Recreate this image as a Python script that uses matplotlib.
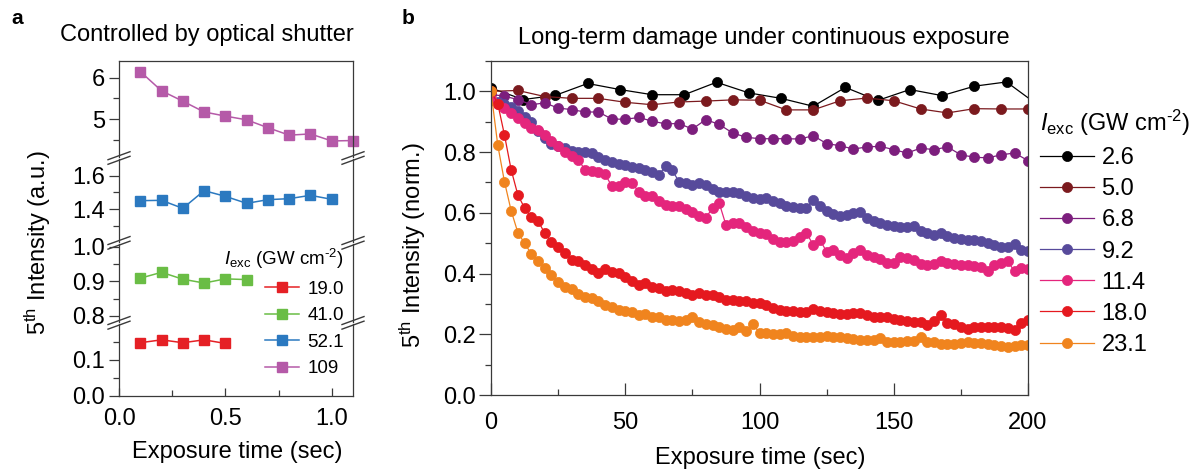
import numpy as np
import matplotlib
matplotlib.use('Agg')
import matplotlib.pyplot as plt
from matplotlib.lines import Line2D
from matplotlib.ticker import FixedLocator, MultipleLocator, FormatStrFormatter

plt.rcParams['font.family'] = 'Liberation Sans'
plt.rcParams['mathtext.fontset'] = 'custom'
plt.rcParams['mathtext.rm'] = 'Liberation Sans'
plt.rcParams['mathtext.it'] = 'Liberation Sans:italic'
plt.rcParams['mathtext.bf'] = 'Liberation Sans:bold'
FS = 17
FS_LEG_A = 13.5
FRAME = '#3a3a3a'
LEG_TITLE = r'$I_{\rm exc}$ (GW cm$^{\text{-2}}$)'

# ---- panel a: shutter controlled exposure (a.u.) ----
t_a = [0.1, 0.2, 0.3, 0.4, 0.5, 0.6, 0.7, 0.8, 0.9, 1.0, 1.1]
a_190 = [0.148, 0.156, 0.148, 0.156, 0.146]
a_410 = [0.909, 0.926, 0.906, 0.895, 0.907, 0.905]
a_521 = [1.450, 1.452, 1.404, 1.510, 1.476, 1.434, 1.456, 1.462, 1.482, 1.458]
a_109 = [6.145, 5.68, 5.43, 5.17, 5.07, 4.98, 4.79, 4.61, 4.64, 4.47, 4.48]
labels_a = ['19.0', '41.0', '52.1', '109']

# ---- panel b: continuous exposure (norm.) ----
t_26 = np.arange(0, 205, 12)
b_26 = [1.011, 0.973, 0.987, 1.026, 1.006, 0.989, 0.989, 1.030, 0.995, 0.977,
        0.951, 1.013, 0.970, 1.006, 0.986, 1.017, 1.031, 0.953]
t_50 = np.arange(0, 201, 10)
b_50 = [1.000, 1.003, 0.983, 0.977, 0.977, 0.964, 0.956, 0.965, 0.968, 0.972,
        0.971, 0.939, 0.939, 0.969, 0.978, 0.969, 0.942, 0.929, 0.943, 0.942, 0.942]
t_68 = np.arange(0, 201, 5)
b_68 = [0.990, 0.984, 0.973, 0.956, 0.962, 0.945, 0.940, 0.932, 0.932, 0.909,
        0.908, 0.914, 0.902, 0.893, 0.894, 0.876, 0.907, 0.891, 0.863, 0.849,
        0.844, 0.844, 0.844, 0.843, 0.854, 0.828, 0.821, 0.810, 0.817, 0.819,
        0.808, 0.797, 0.813, 0.808, 0.817, 0.791, 0.783, 0.781, 0.791, 0.797, 0.772]
t_dense = np.arange(0, 201, 2.5)
b_92 = [0.970, 0.965, 0.958, 0.950, 0.935, 0.915, 0.900, 0.870, 0.845, 0.828,
        0.820, 0.813, 0.805, 0.800, 0.799, 0.797, 0.785, 0.775, 0.769, 0.762,
        0.758, 0.752, 0.747, 0.740, 0.733, 0.725, 0.753, 0.740, 0.703, 0.697,
        0.692, 0.698, 0.690, 0.680, 0.670, 0.668, 0.667, 0.665, 0.655, 0.648,
        0.645, 0.648, 0.640, 0.632, 0.622, 0.618, 0.616, 0.616, 0.643, 0.621,
        0.605, 0.597, 0.590, 0.593, 0.598, 0.604, 0.583, 0.573, 0.568, 0.560,
        0.557, 0.554, 0.554, 0.555, 0.540, 0.532, 0.528, 0.535, 0.523, 0.517,
        0.513, 0.511, 0.511, 0.508, 0.500, 0.494, 0.489, 0.486, 0.498, 0.478, 0.473]
b_114 = [0.975, 0.960, 0.945, 0.928, 0.912, 0.895, 0.878, 0.872, 0.855, 0.838,
         0.820, 0.800, 0.786, 0.775, 0.742, 0.738, 0.735, 0.728, 0.687, 0.687,
         0.700, 0.698, 0.670, 0.656, 0.654, 0.640, 0.626, 0.621, 0.621, 0.614,
         0.602, 0.590, 0.583, 0.616, 0.632, 0.560, 0.565, 0.566, 0.553, 0.540,
         0.533, 0.530, 0.515, 0.505, 0.505, 0.508, 0.520, 0.533, 0.495, 0.511,
         0.472, 0.478, 0.460, 0.451, 0.467, 0.478, 0.460, 0.453, 0.448, 0.434,
         0.436, 0.456, 0.450, 0.445, 0.430, 0.429, 0.430, 0.440, 0.436, 0.432,
         0.429, 0.429, 0.426, 0.420, 0.410, 0.429, 0.434, 0.440, 0.407, 0.418, 0.415]
b_180 = [1.000, 0.960, 0.857, 0.742, 0.659, 0.616, 0.585, 0.574, 0.533, 0.505,
         0.489, 0.467, 0.445, 0.442, 0.429, 0.416, 0.403, 0.416, 0.406, 0.401,
         0.390, 0.374, 0.363, 0.368, 0.357, 0.352, 0.341, 0.346, 0.341, 0.335,
         0.330, 0.335, 0.330, 0.330, 0.324, 0.313, 0.313, 0.308, 0.308, 0.302,
         0.302, 0.297, 0.288, 0.280, 0.278, 0.276, 0.273, 0.275, 0.282, 0.278,
         0.275, 0.269, 0.266, 0.266, 0.269, 0.271, 0.262, 0.258, 0.256, 0.258,
         0.250, 0.248, 0.245, 0.242, 0.240, 0.231, 0.245, 0.265, 0.238, 0.233,
         0.225, 0.217, 0.225, 0.225, 0.225, 0.225, 0.223, 0.220, 0.214, 0.236, 0.247]
b_231 = [1.000, 0.824, 0.703, 0.607, 0.535, 0.500, 0.465, 0.442, 0.418, 0.394,
         0.372, 0.356, 0.348, 0.333, 0.324, 0.319, 0.308, 0.297, 0.291, 0.280,
         0.278, 0.275, 0.264, 0.266, 0.258, 0.256, 0.248, 0.247, 0.245, 0.247,
         0.258, 0.242, 0.234, 0.231, 0.225, 0.217, 0.214, 0.225, 0.212, 0.234,
         0.205, 0.203, 0.202, 0.201, 0.203, 0.195, 0.190, 0.190, 0.192, 0.192,
         0.194, 0.192, 0.190, 0.187, 0.184, 0.181, 0.180, 0.182, 0.187, 0.176,
         0.175, 0.174, 0.177, 0.179, 0.190, 0.173, 0.176, 0.167, 0.167, 0.169,
         0.170, 0.173, 0.171, 0.170, 0.168, 0.165, 0.160, 0.159, 0.162, 0.165, 0.165]
labels_b = ['2.6', '5.0', '6.8', '9.2', '11.4', '18.0', '23.1']

W, H = 1196, 472
fig = plt.figure(figsize=(W / 100, H / 100), dpi=100)


def box(l, t, r, b):
    return [l / W, 1 - b / H, (r - l) / W, (b - t) / H]


def fx(px):
    return px / W


def fy(py):
    return 1 - py / H


# ---------------- panel a (broken y axis) ----------------
AL, AR = 119, 353
segs = [  # (top, bottom, ylim, major, minor, fmt)
    (61, 156.7, (4.09, 6.40), [5, 6], [4.5, 5.5], '%d'),
    (159.3, 241.7, (1.204, 1.698), [1.4, 1.6], [1.3, 1.5], '%.1f'),
    (244, 321.7, (0.783, 1.008), [0.8, 0.9, 1.0], [0.85, 0.95], '%.1f'),
    (324, 396, (0.0, 0.2), [0.0, 0.1], [0.05, 0.15], '%.1f'),
]
series_a = [a_109, a_521, a_410, a_190]
colors_a = ['#b55aa8', '#2b79c0', '#6abd45', '#e52025']
names_a = [labels_a[3], labels_a[2], labels_a[1], labels_a[0]]
handles_a = {}
for i, (top, bot, ylim, major, minor, fmt) in enumerate(segs):
    ax = fig.add_axes(box(AL, top, AR, bot))
    vals = series_a[i]
    ln, = ax.plot(t_a[:len(vals)], vals, 's-', color=colors_a[i], ms=7.2,
                  mec=colors_a[i], lw=1.1, clip_on=False, label=names_a[i])
    handles_a[names_a[i]] = ln
    ax.set_xlim(0, 1.1)
    ax.set_ylim(*ylim)
    ax.yaxis.set_major_locator(FixedLocator(major))
    ax.yaxis.set_minor_locator(FixedLocator(minor))
    ax.yaxis.set_major_formatter(FormatStrFormatter(fmt))
    ax.tick_params(axis='y', which='major', direction='out', length=7.2, width=0.9,
                   pad=2.8, labelsize=FS, colors=FRAME, labelcolor='black')
    ax.tick_params(axis='y', which='minor', direction='out', length=4.3, width=0.9,
                   colors=FRAME)
    for s in ax.spines.values():
        s.set_color(FRAME)
        s.set_linewidth(0.9)
    ax.spines['top'].set_visible(i == 0)
    ax.spines['bottom'].set_visible(i == 3)
    if i == 3:
        ax.xaxis.set_major_locator(MultipleLocator(0.5))
        ax.xaxis.set_minor_locator(MultipleLocator(0.25))
        ax.xaxis.set_major_formatter(FormatStrFormatter('%.1f'))
        ax.tick_params(axis='x', which='major', direction='in', length=6, width=0.9,
                       pad=8.6, labelsize=FS, colors=FRAME, labelcolor='black')
        ax.tick_params(axis='x', which='minor', direction='in', length=4, width=0.9,
                       colors=FRAME)
    else:
        ax.tick_params(axis='x', which='both', bottom=False, labelbottom=False)

# break marks on both spines
for gap in [(156.7 + 159.3) / 2, (241.7 + 244) / 2, (321.7 + 324) / 2]:
    for xs in (AL, AR):
        for off in (-2.3, 2.3):
            fig.add_artist(Line2D([fx(xs - 11), fx(xs + 11)],
                                  [fy(gap + off + 4), fy(gap + off - 4)],
                                  color=FRAME, lw=1.0))

fig.text(fx(207), fy(35), 'Controlled by optical shutter', fontsize=FS,
         ha='center', va='center')
fig.text(fx(38), fy(243), r'5$^{\rm th}$ Intensity (a.u.)', fontsize=FS,
         rotation=90, ha='center', va='center')
fig.text(fx(237), fy(452), 'Exposure time (sec)', fontsize=FS,
         ha='center', va='center')
fig.text(fx(17), fy(18), 'a', fontsize=15, fontweight='bold', ha='center', va='center')

fig.legend([handles_a[n] for n in labels_a], labels_a,
           title=LEG_TITLE, loc='upper right',
           bbox_to_anchor=(fx(344), fy(247)), frameon=False, fontsize=FS_LEG_A,
           title_fontsize=FS_LEG_A, handlelength=1.8, handletextpad=0.45,
           labelspacing=0.5, borderpad=0, borderaxespad=0,
           alignment='right')

# ---------------- panel b ----------------
axb = fig.add_axes(box(491, 61, 1028, 395))
series_b = [(t_26, b_26), (t_50, b_50), (t_68, b_68), (t_dense, b_92),
            (t_dense, b_114), (t_dense, b_180), (t_dense, b_231)]
colors_b = ['#000000', '#7b1a1e', '#7c1e7d', '#574a9b', '#e4257c', '#e5191f', '#f0841e']
for (t, v), c, lab in zip(series_b, colors_b, labels_b):
    axb.plot(t, v, 'o-', color=c, ms=7.3, mec=c, mew=0.5, lw=0.9, label=lab)
axb.set_xlim(0, 200)
axb.set_ylim(0, 1.1)
axb.xaxis.set_major_locator(MultipleLocator(50))
axb.xaxis.set_minor_locator(MultipleLocator(25))
axb.yaxis.set_major_locator(MultipleLocator(0.2))
axb.yaxis.set_minor_locator(MultipleLocator(0.1))
axb.yaxis.set_major_formatter(FormatStrFormatter('%.1f'))
axb.tick_params(axis='y', which='major', direction='out', length=9, width=0.9,
                pad=1.8, labelsize=FS, colors=FRAME, labelcolor='black')
axb.tick_params(axis='y', which='minor', direction='out', length=4.3, width=0.9,
                colors=FRAME)
axb.tick_params(axis='x', which='major', direction='in', length=8.4, width=0.9,
                pad=12, labelsize=FS, colors=FRAME, labelcolor='black')
axb.tick_params(axis='x', which='minor', direction='in', length=4.3, width=0.9,
                colors=FRAME)
for s in axb.spines.values():
    s.set_color(FRAME)
    s.set_linewidth(0.9)

fig.text(fx(764), fy(38), 'Long-term damage under continuous exposure', fontsize=FS,
         ha='center', va='center')
fig.text(fx(413), fy(245), r'5$^{\rm th}$ Intensity (norm.)', fontsize=FS,
         rotation=90, ha='center', va='center')
fig.text(fx(760), fy(458), 'Exposure time (sec)', fontsize=FS,
         ha='center', va='center')
fig.text(fx(408), fy(18), 'b', fontsize=15, fontweight='bold', ha='center', va='center')

axb.legend(title=LEG_TITLE, loc='upper left',
           bbox_to_anchor=(fx(1040), fy(108)), bbox_transform=fig.transFigure,
           frameon=False, fontsize=FS, title_fontsize=FS, handlelength=2.3,
           handletextpad=0.3, labelspacing=0.385, borderpad=0, borderaxespad=0,
           alignment='left')

fig.savefig('out.png', dpi=100)
